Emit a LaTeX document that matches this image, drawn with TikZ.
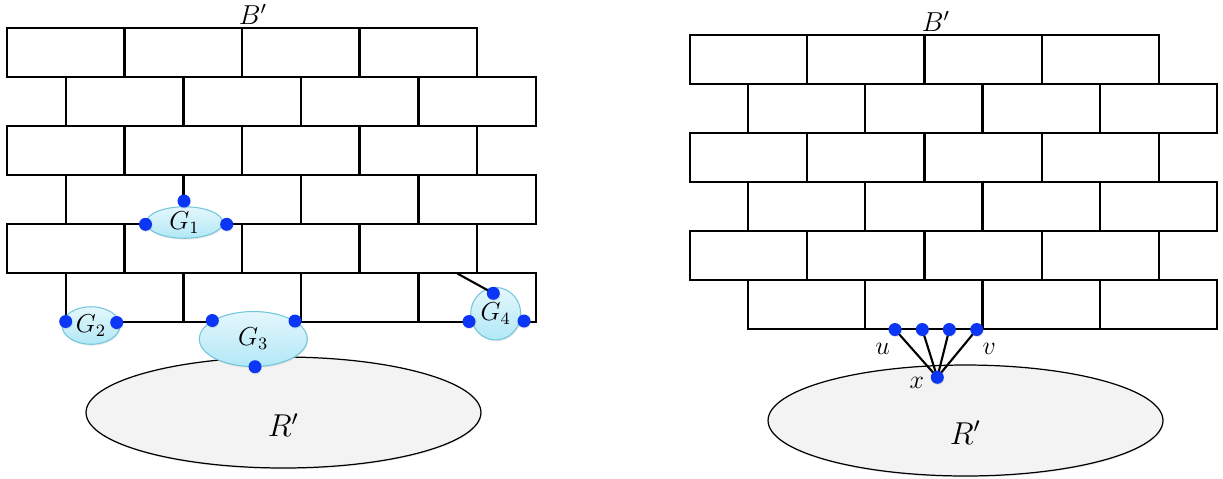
\documentclass[tikz,border=0pt]{standalone}
\usetikzlibrary{shapes.geometric,shadows}
\definecolor{dotblue}{HTML}{0B36F6}
\definecolor{gtop}{HTML}{E4F7FC}
\definecolor{gbot}{HTML}{B2E8F7}
\definecolor{gline}{HTML}{72C6DC}
\definecolor{rfill}{HTML}{F3F3F3}
\tikzset{
  brick/.style={line width=1.2pt, draw=black},
  conn/.style={line width=1.2pt, draw=black},
  gcomp/.style={ellipse, draw=gline, line width=0.6pt, top color=gtop, bottom color=gbot,
     inner sep=0pt, font=\fontsize{12}{14}\selectfont,
     drop shadow={opacity=0.18, shadow xshift=0.4pt, shadow yshift=-0.8pt}},
  region/.style={ellipse, draw=black, line width=0.7pt, fill=rfill, inner sep=0pt,
     minimum width=7.9cm, minimum height=2.22cm,
     drop shadow={opacity=0.15, shadow xshift=0.4pt, shadow yshift=-0.8pt}},
  vdot/.style={circle, fill=dotblue, inner sep=0pt, minimum size=0.26cm,
     drop shadow={opacity=0.2, shadow xshift=0.3pt, shadow yshift=-0.6pt}},
  lab/.style={inner sep=0pt, font=\fontsize{12}{14}\selectfont},
}
\newcommand{\gl}[1]{\scalebox{1.23}{$#1$}}
\begin{document}
\begin{tikzpicture}[x=0.02cm, y=-0.02cm]
\useasboundingbox (0,0) rectangle (1223,478);

% ---------- left wall ----------
\begin{scope}[shift={(7,27.7)}]
  \foreach \r in {0,...,5} {
    \pgfmathsetmacro\off{mod(\r,2)*59}
    \foreach \c in {0,...,3}
      \draw[brick] (\off+\c*117.5, \r*49) rectangle ++(117.5,49);
  }
\end{scope}

% ---------- right wall ----------
\begin{scope}[shift={(690,35.3)}]
  \foreach \r in {0,...,5} {
    \pgfmathsetmacro\off{mod(\r,2)*58}
    \foreach \c in {0,...,3}
      \draw[brick] (\off+\c*117.25, \r*49) rectangle ++(117.25,49);
  }
\end{scope}

% ---------- labels B' ----------
\node[lab, anchor=base] (BL) at (253,24.5) {\scalebox{1.3}{$B'$}};
\node[lab, anchor=base] (BR) at (936,31) {\scalebox{1.3}{$B'$}};

% ---------- regions R' ----------
\node[region] (RL) at (283.5,412.5) {};
\node[region] (RR) at (965.5,420.5) {};
\node[lab] (RLlab) at (283.5,425) {\scalebox{1.5}{$R'$}};
\node[lab] (RRlab) at (965.5,432.5) {\scalebox{1.5}{$R'$}};

% ---------- components G ----------
\node[gcomp, minimum width=1.53cm, minimum height=0.63cm] (G1) at (184.5,222.5) {\gl{G_1}};
\node[gcomp, minimum width=1.16cm, minimum height=0.75cm] (G2) at (91,325.5) {\gl{G_2}};
\node[gcomp, minimum width=2.16cm, minimum height=1.10cm] (G3) at (253.3,339) {\gl{G_3}};
\node[gcomp, minimum width=1.0cm, minimum height=1.05cm] (G4) at (495.7,313.7) {\gl{G_4}};

% ---------- attachment dots (left) ----------
\coordinate (g4w) at (457.3,273.5);
\node[vdot] (g1t) at (184,201) {};
\node[vdot] (g1l) at (145.5,224.3) {};
\node[vdot] (g1r) at (226.7,224.3) {};
\node[vdot] (g2l) at (65.7,321.5) {};
\node[vdot] (g2r) at (116.7,322.5) {};
\node[vdot] (g3l) at (212.3,320.5) {};
\node[vdot] (g3r) at (295,321) {};
\node[vdot] (g3b) at (255,366.7) {};
\draw[conn] (g4w) -- (493.3,293.3) coordinate (g4tc);
\node[vdot] (g4t) at (g4tc) {};
\node[vdot] (g4l) at (469,321.5) {};
\node[vdot] (g4r) at (524,321) {};

% ---------- right: u ... v and x ----------
\coordinate (xc) at (937.3,377.3);
\coordinate (uc) at (895,329.5);
\coordinate (w1c) at (922.3,329.5);
\coordinate (w2c) at (949.3,329.5);
\coordinate (vc) at (976.7,329.5);
\draw[conn] (xc) -- (uc);
\draw[conn] (xc) -- (w1c);
\draw[conn] (xc) -- (w2c);
\draw[conn] (xc) -- (vc);
\node[vdot] (u) at (uc) {};
\node[vdot] (w1) at (w1c) {};
\node[vdot] (w2) at (w2c) {};
\node[vdot] (v) at (vc) {};
\node[vdot] (x) at (xc) {};
\node[lab] (ulab) at (882.7,349.3) {\gl{u}};
\node[lab] (vlab) at (989.3,349) {\gl{v}};
\node[lab] (xlab) at (916.7,383) {\gl{x}};
\end{tikzpicture}
\end{document}
